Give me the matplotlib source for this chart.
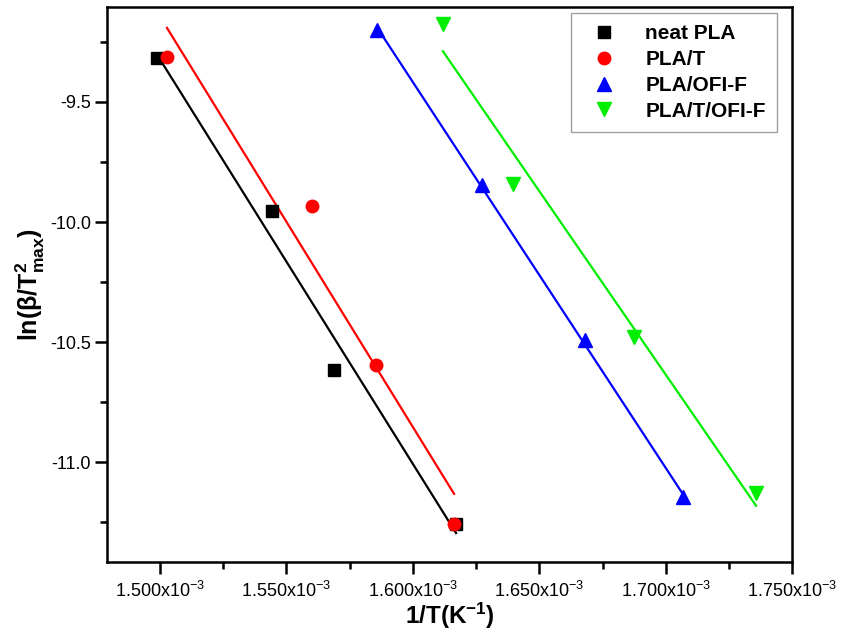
import numpy as np
import matplotlib
matplotlib.use("Agg")
import matplotlib.pyplot as plt
from matplotlib.ticker import FuncFormatter, MultipleLocator

plt.rcParams['font.family'] = ['Liberation Sans', 'DejaVu Sans']
plt.rcParams['mathtext.fontset'] = 'custom'
plt.rcParams['mathtext.rm'] = 'Liberation Sans'
plt.rcParams['mathtext.it'] = 'Liberation Sans:italic'
plt.rcParams['mathtext.bf'] = 'Liberation Sans:bold'

# Data (x in 1/K, y = ln(beta/Tmax^2))
series_names = ["neat PLA", "PLA/T", "PLA/OFI-F", "PLA/T/OFI-F"]
x_neat = [1.4988e-3, 1.5444e-3, 1.5687e-3, 1.6171e-3]
y_neat = [-9.317, -9.954, -10.617, -11.258]
x_plat = [1.5028e-3, 1.5603e-3, 1.5853e-3, 1.6163e-3]
y_plat = [-9.3125, -9.933, -10.596, -11.258]
x_ofi = [1.5857e-3, 1.6274e-3, 1.6679e-3, 1.7067e-3]
y_ofi = [-9.200, -9.846, -10.492, -11.146]
x_tofi = [1.6119e-3, 1.6397e-3, 1.6873e-3, 1.7357e-3]
y_tofi = [-9.175, -9.842, -10.479, -11.129]

colors = ["#000000", "#ff0000", "#0000ff", "#00ee00"]
markers = ["s", "o", "^", "v"]
msizes = [8.5, 9, 10, 10]

fig = plt.figure(figsize=(8.41, 6.34), dpi=100)
ax = fig.add_axes([0.127, 0.1136, 0.815, 0.876])

data = [(x_neat, y_neat), (x_plat, y_plat), (x_ofi, y_ofi), (x_tofi, y_tofi)]
for (xs, ys), name, c, m, ms in zip(data, series_names, colors, markers, msizes):
    xs = np.array(xs); ys = np.array(ys)
    ax.plot(xs, ys, linestyle='none', marker=m, color=c, markersize=ms, label=name, zorder=3)
    k, b = np.polyfit(xs, ys, 1)
    xf = np.array([xs.min(), xs.max()])
    ax.plot(xf, k * xf + b, color=c, linewidth=1.6, zorder=2)

ax.set_xlim(1.479e-3, 1.750e-3)
ax.set_ylim(-11.415, -9.103)

ax.xaxis.set_major_locator(MultipleLocator(0.05e-3))
ax.xaxis.set_minor_locator(MultipleLocator(0.025e-3))
ax.yaxis.set_major_locator(MultipleLocator(0.5))
ax.yaxis.set_minor_locator(MultipleLocator(0.25))
ax.xaxis.set_major_formatter(FuncFormatter(lambda v, p: r"%.3fx10$^{-3}$" % (v * 1e3)))
ax.yaxis.set_major_formatter(FuncFormatter(lambda v, p: "%.1f" % v))

ax.tick_params(which='major', direction='out', length=8.5, width=1.8, labelsize=13)
ax.tick_params(which='minor', direction='out', length=5, width=1.8)
ax.tick_params(axis='x', pad=5)
ax.tick_params(axis='y', pad=3)
for s in ax.spines.values():
    s.set_linewidth(1.8)

ax.set_xlabel(r"$\mathbf{1/T(K^{-1})}$", fontsize=17.5, labelpad=0)
ax.set_ylabel(r"$\mathbf{ln(β/T^{2}_{max})}$", fontsize=18, labelpad=2)

leg = ax.legend(loc='upper right', bbox_to_anchor=(0.978, 0.989), frameon=True, fancybox=False,
                edgecolor='#888888', prop={'weight': 'bold', 'size': 15},
                handletextpad=1.0, borderpad=0.55, labelspacing=0.33, borderaxespad=0)
leg.get_frame().set_linewidth(1.0)

fig.savefig("out.png", dpi=100)
